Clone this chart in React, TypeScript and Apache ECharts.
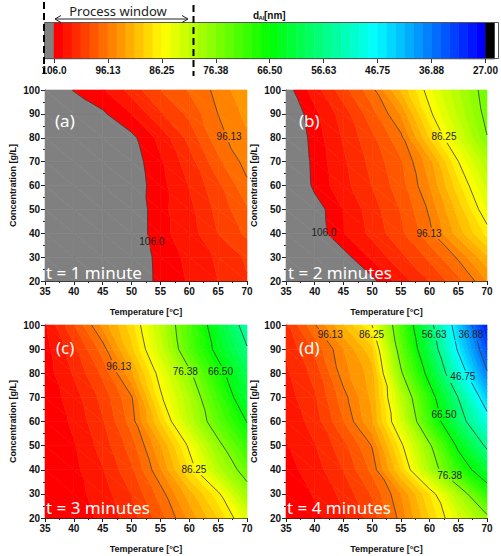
import React, { useEffect, useRef } from "react";
import * as echarts from "echarts";

// ---------- data ----------
const temperatures = [35, 40, 45, 50, 55, 60, 65, 70];
const concentrations = [20, 30, 40, 50, 60, 70, 80, 90, 100];
const levelTickLabels = ["106.0", "96.13", "86.25", "76.38", "66.50", "56.63", "46.75", "36.88", "27.00"];
const levelMax = 106;
const levelMin = 27;
const bandsCount = 48;

// d_Al [nm] values; rows from C = 100 (top) down to C = 20, columns T = 35..70
const valuesMin1 = [
  [110, 105.8, 104.6, 102.0, 99.4, 97.6, 95.6, 93.0],
  [112, 109, 106.3, 104.3, 101.3, 99.0, 96.1, 94.0],
  [113, 111, 109, 106.5, 103.8, 100.5, 96.7, 94.8],
  [113, 112, 110, 107, 104.6, 101.8, 98.2, 95.4],
  [114, 112, 110, 107.2, 104.9, 102.6, 99.8, 96.5],
  [114, 112, 110, 107.5, 104.8, 103.2, 100.5, 98.0],
  [114, 112, 110, 107.5, 104.8, 103.5, 101.0, 99.0],
  [115, 113, 111, 108, 105.2, 104.0, 102.4, 100.8],
  [115, 113, 111, 108, 105.3, 104.2, 102.7, 101.2],
];
const valuesMin2 = [
  [106.9, 103.5, 100.1, 96.7, 91.0, 85.1, 79.9, 74.8],
  [108, 104.8, 101.9, 98.4, 94.3, 86.8, 81.0, 75.4],
  [108.5, 105.2, 102.5, 99.8, 96.6, 89.5, 83.0, 76.5],
  [109, 105.4, 103.0, 100.5, 98.0, 93.5, 86.3, 80.0],
  [109.5, 105.5, 103.3, 101.0, 98.5, 94.5, 88.5, 82.5],
  [110, 107.0, 104.3, 101.8, 99.3, 95.8, 90.5, 84.5],
  [110.5, 107.2, 104.4, 102.2, 99.8, 96.6, 92.0, 87.3],
  [112, 110, 106.8, 104.0, 101.5, 99.0, 95.8, 91.5],
  [113, 111, 109, 106.5, 103.5, 101.0, 98.3, 94.5],
];
const valuesMin3 = [
  [104.5, 99.5, 94.0, 88.6, 81.0, 72.1, 63.1, 54.1],
  [105, 101.5, 97.0, 90.0, 82.2, 72.9, 64.9, 57.0],
  [105.2, 102.5, 99.0, 93.2, 85.0, 77.2, 68.5, 60.5],
  [105.5, 103.5, 100.5, 96.3, 86.8, 79.8, 71.2, 62.5],
  [105.7, 104.0, 101.2, 97.0, 89.5, 81.0, 73.5, 66.3],
  [105.8, 104.5, 102.0, 98.6, 93.0, 85.7, 77.5, 70.5],
  [105.8, 104.8, 102.8, 99.7, 94.6, 87.8, 80.5, 74.3],
  [105.8, 105.0, 103.5, 101.0, 97.0, 92.0, 86.8, 78.5],
  [105.8, 105.3, 104.0, 101.8, 98.5, 94.0, 89.5, 83.5],
];
const valuesMin4 = [
  [101.5, 96.3, 91.2, 86.2, 72.3, 58.7, 43.3, 29.5],
  [102.5, 99.0, 94.5, 90.0, 74.2, 61.0, 46.0, 33.5],
  [103, 100.5, 95.2, 92.0, 77.0, 64.5, 50.5, 37.3],
  [103.5, 101.3, 96.8, 92.5, 81.0, 69.0, 56.5, 43.3],
  [104, 102, 97.8, 93.0, 83.0, 71.0, 59.5, 49.2],
  [104.5, 102.8, 100.0, 96.0, 87.0, 77.0, 65.5, 55.6],
  [105, 103.5, 101.0, 97.3, 89.5, 79.5, 70.0, 62.5],
  [105.5, 104.2, 102.2, 99.2, 94.5, 88.0, 79.5, 69.8],
  [105.8, 104.8, 103.0, 100.3, 95.5, 89.5, 83.5, 77.5],
];

// contour labels: [temperature, concentration, text]
const labelsMin1: [number, number, string][] = [
  [53.5, 36.5, "106.0"],
  [66.9, 80.7, "96.13"],
];
const labelsMin2: [number, number, string][] = [
  [41.6, 40.2, "106.0"],
  [59.9, 40.0, "96.13"],
  [62.5, 80.4, "86.25"],
];
const labelsMin3: [number, number, string][] = [
  [47.8, 83.0, "96.13"],
  [59.3, 80.6, "76.38"],
  [65.4, 80.6, "66.50"],
  [60.8, 40.2, "86.25"],
];
const labelsMin4: [number, number, string][] = [
  [42.7, 96.0, "96.13"],
  [49.9, 96.0, "86.25"],
  [60.8, 96.0, "56.63"],
  [67.2, 96.0, "36.88"],
  [65.8, 78.5, "46.75"],
  [62.5, 62.8, "66.50"],
  [63.5, 37.8, "76.38"],
];

const panelTags = ["(a)", "(b)", "(c)", "(d)"];
const panelTimes = ["t = 1 minute", "t = 2 minutes", "t = 3 minutes", "t = 4 minutes"];

// ---------- layout ----------
const panelRects = [
  { left: 45, top: 90, width: 202, height: 191 },
  { left: 286, top: 90, width: 201, height: 191 },
  { left: 45, top: 325, width: 202, height: 193 },
  { left: 286, top: 325, width: 201, height: 193 },
];
const tagPos = [
  [55, 120], [299, 120], [56, 347], [299, 347],
];
const timePos = [
  [46, 272.5], [288, 272.5], [46, 507], [287, 507],
];

const FONT = "Liberation Sans";

function rainbow(t: number): string {
  const stops = [
    [255, 0, 0],
    [255, 255, 0],
    [0, 255, 0],
    [0, 255, 255],
    [0, 0, 255],
  ];
  const s = Math.min(3.99999, Math.max(0, t * 4));
  const i = Math.floor(s);
  const f = s - i;
  const a = stops[i];
  const b = stops[i + 1];
  const c = a.map((v, k) => Math.round(v + (b[k] - v) * f));
  return `rgb(${c[0]},${c[1]},${c[2]})`;
}

const bandStep = (levelMax - levelMin) / bandsCount;
type Band = { lo: number; hi: number; color: string };
const bands: Band[] = [];
bands.push({ lo: levelMax, hi: Infinity, color: "#808080" });
for (let k = 0; k < bandsCount; k++) {
  bands.push({
    lo: levelMax - (k + 1) * bandStep,
    hi: levelMax - k * bandStep,
    color: rainbow(k / (bandsCount - 1)),
  });
}
bands.push({ lo: -Infinity, hi: levelMin, color: "#000000" });

const lineLevels = levelTickLabels.map((_, k) => levelMax - (k * (levelMax - levelMin)) / (levelTickLabels.length - 1));

type P = [number, number, number];

function clip(poly: P[], bound: number, keepAbove: boolean): P[] {
  const out: P[] = [];
  const n = poly.length;
  for (let i = 0; i < n; i++) {
    const A = poly[i];
    const B = poly[(i + 1) % n];
    const ina = keepAbove ? A[2] >= bound : A[2] <= bound;
    const inb = keepAbove ? B[2] >= bound : B[2] <= bound;
    if (ina) out.push(A);
    if (ina !== inb) {
      const t = (bound - A[2]) / (B[2] - A[2]);
      out.push([A[0] + t * (B[0] - A[0]), A[1] + t * (B[1] - A[1]), bound]);
    }
  }
  return out;
}

function valueAt(values: number[][], i: number, j: number) {
  return values[concentrations.length - 1 - j][i];
}

function cellTriangles(values: number[][], i: number, j: number, api: any): P[][] {
  const pt = (ii: number, jj: number): P => {
    const p = api.coord([temperatures[ii], concentrations[jj]]);
    return [p[0], p[1], valueAt(values, ii, jj)];
  };
  const BL = pt(i, j);
  const BR = pt(i + 1, j);
  const TL = pt(i, j + 1);
  const TR = pt(i + 1, j + 1);
  return [
    [TL, BL, BR],
    [TL, BR, TR],
  ];
}

function nodeData(values: number[][]) {
  const data: number[][] = [];
  for (let j = 0; j < concentrations.length; j++) {
    for (let i = 0; i < temperatures.length; i++) {
      data.push([temperatures[i], concentrations[j], valueAt(values, i, j)]);
    }
  }
  return data;
}

function fillRenderer(values: number[][]) {
  return (params: any, api: any) => {
    const nT = temperatures.length;
    const idx = params.dataIndex;
    const i = idx % nT;
    const j = Math.floor(idx / nT);
    if (i >= nT - 1 || j >= concentrations.length - 1) return null;
    const children: any[] = [];
    for (const tri of cellTriangles(values, i, j, api)) {
      const vs = tri.map((p) => p[2]);
      const mn = Math.min(...vs);
      const mx = Math.max(...vs);
      for (const b of bands) {
        if (b.hi < mn || b.lo > mx) continue;
        let poly: P[] = tri;
        if (isFinite(b.lo)) poly = clip(poly, b.lo, true);
        if (poly.length >= 3 && isFinite(b.hi)) poly = clip(poly, b.hi, false);
        if (poly.length < 3) continue;
        children.push({
          type: "polygon",
          silent: true,
          shape: { points: poly.map((p) => [p[0], p[1]]) },
          style: { fill: b.color, stroke: b.color, lineWidth: 0.6 },
        });
      }
    }
    return { type: "group", children };
  };
}

function lineRenderer(values: number[][], labels: [number, number, string][]) {
  return (params: any, api: any) => {
    const nT = temperatures.length;
    const idx = params.dataIndex;
    const i = idx % nT;
    const j = Math.floor(idx / nT);
    if (i >= nT - 1 || j >= concentrations.length - 1) return null;
    const boxes = labels.map((l) => {
      const p = api.coord([l[0], l[1]]);
      const hw = l[2].length * 2.9 + 1.5;
      return [p[0] - hw, p[1] - 6, p[0] + hw, p[1] + 6];
    });
    const inBox = (x: number, y: number) => boxes.some((b) => x > b[0] && x < b[2] && y > b[1] && y < b[3]);
    const children: any[] = [];
    for (const tri of cellTriangles(values, i, j, api)) {
      for (const L of lineLevels) {
        const pts: number[][] = [];
        for (let e = 0; e < 3; e++) {
          const A = tri[e];
          const B = tri[(e + 1) % 3];
          if ((A[2] >= L) !== (B[2] >= L)) {
            const t = (L - A[2]) / (B[2] - A[2]);
            pts.push([A[0] + t * (B[0] - A[0]), A[1] + t * (B[1] - A[1])]);
          }
        }
        if (pts.length !== 2) continue;
        const [p, q] = pts;
        const len = Math.hypot(q[0] - p[0], q[1] - p[1]);
        const n = Math.max(1, Math.ceil(len / 1));
        let start: number[] | null = null;
        let last: number[] | null = null;
        for (let s = 0; s < n; s++) {
          const a = [p[0] + ((q[0] - p[0]) * s) / n, p[1] + ((q[1] - p[1]) * s) / n];
          const b = [p[0] + ((q[0] - p[0]) * (s + 1)) / n, p[1] + ((q[1] - p[1]) * (s + 1)) / n];
          const hidden = inBox((a[0] + b[0]) / 2, (a[1] + b[1]) / 2);
          if (!hidden) {
            if (!start) start = a;
            last = b;
          } else if (start && last) {
            children.push({ type: "line", silent: true, shape: { x1: start[0], y1: start[1], x2: last[0], y2: last[1] }, style: { stroke: "#3a3a3a", lineWidth: 0.8 } });
            start = null;
            last = null;
          }
        }
        if (start && last) {
          children.push({ type: "line", silent: true, shape: { x1: start[0], y1: start[1], x2: last[0], y2: last[1] }, style: { stroke: "#3a3a3a", lineWidth: 0.8 } });
        }
      }
    }
    return { type: "group", children };
  };
}

function labelRenderer(labels: [number, number, string][]) {
  return (params: any, api: any) => {
    const l = labels[params.dataIndex];
    const p = api.coord([l[0], l[1]]);
    return {
      type: "text",
      silent: true,
      x: p[0],
      y: p[1],
      style: { text: l[2], fill: "#222", font: `10px '${FONT}'`, align: "center", verticalAlign: "middle" },
    };
  };
}

const panelValues = [valuesMin1, valuesMin2, valuesMin3, valuesMin4];
const panelLabels = [labelsMin1, labelsMin2, labelsMin3, labelsMin4];

export default function App() {
  const ref = useRef<HTMLDivElement>(null);
  useEffect(() => {
    if (!ref.current) return;
    const chart = echarts.init(ref.current, undefined, { renderer: "svg" });

    const grids: any[] = [{ left: 54, top: 23, width: 435, height: 36 }];
    const xAxes: any[] = [
      {
        gridIndex: 0,
        type: "value",
        min: levelMin,
        max: levelMax,
        interval: (levelMax - levelMin) / (levelTickLabels.length - 1),
        inverse: true,
        axisLine: { show: false },
        axisTick: { show: true, length: 4, lineStyle: { color: "#333" } },
        splitLine: { show: false },
        axisLabel: {
          margin: 6,
          fontSize: 10,
          fontWeight: "bold",
          fontFamily: FONT,
          color: "#111",
          formatter: (v: number) =>
            levelTickLabels[Math.round((levelMax - v) / ((levelMax - levelMin) / (levelTickLabels.length - 1)))],
        },
      },
    ];
    const yAxes: any[] = [{ gridIndex: 0, type: "value", min: 0, max: 1, show: false }];
    const series: any[] = [
      {
        type: "custom",
        xAxisIndex: 0,
        yAxisIndex: 0,
        clip: false,
        silent: true,
        data: bands.map((b) => [isFinite(b.hi) ? b.hi : levelMax + bandStep, isFinite(b.lo) ? b.lo : levelMin - bandStep]),
        renderItem: (params: any, api: any) => {
          const hi = api.value(0);
          const lo = api.value(1);
          const p1 = api.coord([hi, 1]);
          const p2 = api.coord([lo, 0]);
          const c = bands[params.dataIndex].color;
          return {
            type: "rect",
            shape: { x: Math.min(p1[0], p2[0]), y: p1[1], width: Math.abs(p2[0] - p1[0]), height: p2[1] - p1[1] },
            style: { fill: c, stroke: c, lineWidth: 0.5 },
          };
        },
      },
    ];

    panelRects.forEach((r, k) => {
      const gi = k + 1;
      grids.push({ ...r });
      xAxes.push({
        gridIndex: gi,
        type: "value",
        min: 35,
        max: 70,
        interval: 5,
        axisLine: { show: true, onZero: false, lineStyle: { color: "#222", width: 1 } },
        axisTick: { show: true, length: 4, lineStyle: { color: "#222" } },
        minorTick: { show: true, splitNumber: 2, length: 2, lineStyle: { color: "#222" } },
        splitLine: { show: false },
        axisLabel: { margin: 5, fontSize: 10, fontWeight: "bold", fontFamily: FONT, color: "#111" },
        name: "Temperature [°C]",
        nameLocation: "middle",
        nameGap: 26,
        nameTextStyle: { fontSize: 9, fontWeight: "bold", fontFamily: FONT, color: "#111" },
      });
      yAxes.push({
        gridIndex: gi,
        type: "value",
        min: 20,
        max: 100,
        interval: 10,
        axisLine: { show: true, onZero: false, lineStyle: { color: "#222", width: 1 } },
        axisTick: { show: true, length: 4, lineStyle: { color: "#222" } },
        minorTick: { show: true, splitNumber: 2, length: 2, lineStyle: { color: "#222" } },
        splitLine: { show: false },
        axisLabel: { margin: 5, fontSize: 10, fontWeight: "bold", fontFamily: FONT, color: "#111" },
        name: "Concentration [g/L]",
        nameLocation: "middle",
        nameGap: 28,
        nameTextStyle: { fontSize: 9, fontWeight: "bold", fontFamily: FONT, color: "#111" },
      });
      const vals = panelValues[k];
      const labs = panelLabels[k];
      const nodes = nodeData(vals);
      series.push({
        type: "custom",
        xAxisIndex: gi,
        yAxisIndex: gi,
        silent: true,
        z: 2,
        data: nodes,
        renderItem: fillRenderer(vals),
      });
      series.push({
        type: "custom",
        xAxisIndex: gi,
        yAxisIndex: gi,
        silent: true,
        z: 3,
        data: nodes,
        renderItem: lineRenderer(vals, labs),
      });
      series.push({
        type: "custom",
        xAxisIndex: gi,
        yAxisIndex: gi,
        silent: true,
        z: 4,
        data: labs.map((l) => [l[0], l[1]]),
        renderItem: labelRenderer(labs),
      });
    });

    const graphics: any[] = [
      {
        type: "rect",
        z: 100,
        silent: true,
        shape: { x: 44.5, y: 22.5, width: 454, height: 36 },
        style: { fill: "none", stroke: "#555", lineWidth: 1 },
      },
      {
        type: "line",
        z: 100,
        silent: true,
        shape: { x1: 44, y1: 2, x2: 44, y2: 73 },
        style: { stroke: "#000", lineWidth: 2, lineDash: [7, 4] },
      },
      {
        type: "line",
        z: 100,
        silent: true,
        shape: { x1: 193.5, y1: 5, x2: 193.5, y2: 76 },
        style: { stroke: "#000", lineWidth: 2, lineDash: [7, 4] },
      },
      {
        type: "line",
        z: 100,
        silent: true,
        shape: { x1: 55, y1: 19, x2: 188, y2: 19 },
        style: { stroke: "#222", lineWidth: 1 },
      },
      {
        type: "polyline",
        z: 100,
        silent: true,
        shape: { points: [[61, 15.5], [55, 19], [61, 22.5]] },
        style: { stroke: "#222", lineWidth: 1, fill: "none" },
      },
      {
        type: "polyline",
        z: 100,
        silent: true,
        shape: { points: [[182, 15.5], [188, 19], [182, 22.5]] },
        style: { stroke: "#222", lineWidth: 1, fill: "none" },
      },
      {
        type: "text",
        z: 100,
        silent: true,
        x: 118,
        y: 11,
        style: { text: "Process window", font: "13px 'Noto Sans'", fill: "#222", align: "center", verticalAlign: "middle" },
      },
      {
        type: "text",
        z: 100,
        silent: true,
        x: 253,
        y: 15,
        style: { text: "d", font: `bold 10px '${FONT}'`, fill: "#111", align: "left", verticalAlign: "middle" },
      },
      {
        type: "text",
        z: 100,
        silent: true,
        x: 258.5,
        y: 17.5,
        style: { text: "Al", font: `bold 6px '${FONT}'`, fill: "#111", align: "left", verticalAlign: "middle" },
      },
      {
        type: "text",
        z: 100,
        silent: true,
        x: 264,
        y: 15,
        style: { text: "[nm]", font: `bold 10px '${FONT}'`, fill: "#111", align: "left", verticalAlign: "middle" },
      },
    ];
    panelTags.forEach((t, k) => {
      graphics.push({
        type: "text",
        z: 100,
        silent: true,
        x: tagPos[k][0],
        y: tagPos[k][1],
        style: { text: t, font: "17px 'Noto Sans'", fill: "#fff", align: "left", verticalAlign: "middle" },
      });
      graphics.push({
        type: "text",
        z: 100,
        silent: true,
        x: timePos[k][0],
        y: timePos[k][1],
        style: { text: panelTimes[k], font: "17px 'Noto Sans'", fill: "#fff", align: "left", verticalAlign: "middle" },
      });
    });

    chart.setOption({
      animation: false,
      backgroundColor: "#fff",
      textStyle: { fontFamily: FONT },
      grid: grids,
      xAxis: xAxes,
      yAxis: yAxes,
      series,
      graphic: { elements: graphics },
    });
    return () => chart.dispose();
  }, []);
  return (
    <div
      ref={ref}
      style={{ position: "fixed", left: 0, top: 0, width: 501, height: 556, background: "#fff" }}
    />
  );
}
